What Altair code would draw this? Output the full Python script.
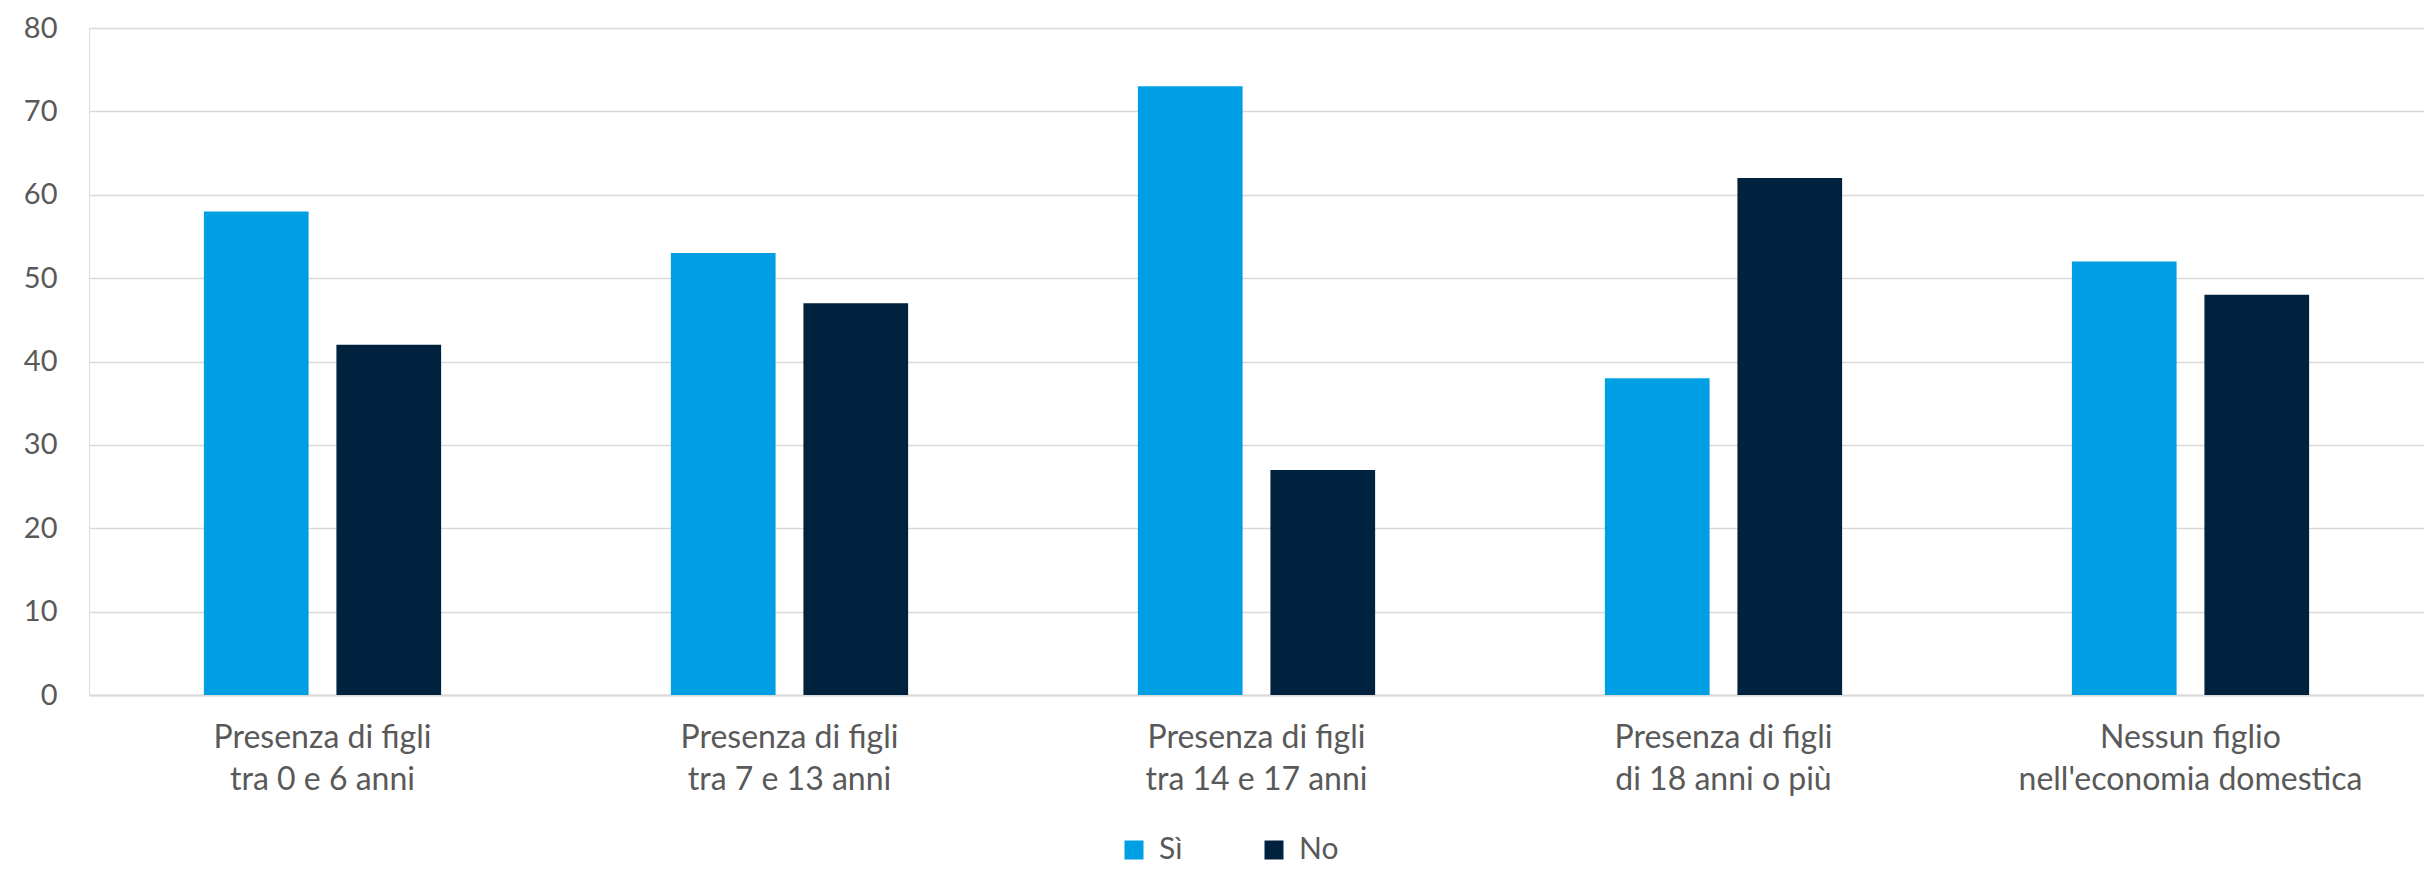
import altair as alt
import pandas as pd

categories = [
    "Presenza di figli|tra 0 e 6 anni",
    "Presenza di figli|tra 7 e 13 anni",
    "Presenza di figli|tra 14 e 17 anni",
    "Presenza di figli|di 18 anni o più",
    "Nessun figlio|nell'economia domestica",
]
series = ["Sì", "No"]
si_values = [58, 53, 73, 38, 52]
no_values = [42, 47, 27, 62, 48]
colors = ["#009FE3", "#00223E"]

rows = []
for c, s, n in zip(categories, si_values, no_values):
    rows.append({"cat": c, "serie": "Sì", "val": s})
    rows.append({"cat": c, "serie": "No", "val": n})
df = pd.DataFrame(rows)

FONT = "Lato"
GREY = "#595959"

chart = alt.Chart(df).mark_bar().encode(
    x=alt.X("cat:N", sort=categories, title=None,
            scale=alt.Scale(paddingInner=0.492, paddingOuter=0.246),
            axis=alt.Axis(labelAngle=0, labelExpr="split(datum.label, '|')",
                          labelFont=FONT, labelFontSize=32, labelColor=GREY,
                          labelLineHeight=42, labelPadding=27, labelBaseline="top",
                          labelLimit=0,
                          ticks=False, domain=True, domainColor="#d9d9d9",
                          domainWidth=2, grid=False)),
    xOffset=alt.XOffset("serie:N", sort=series,
                        scale=alt.Scale(paddingInner=0.21, paddingOuter=0)),
    y=alt.Y("val:Q", title=None,
            scale=alt.Scale(domain=[0, 80]),
            axis=alt.Axis(values=list(range(0, 81, 10)), labelFont=FONT,
                          labelFontSize=29, labelColor=GREY, labelPadding=32,
                          ticks=False, domain=False, grid=True,
                          gridColor="#d9d9d9", gridWidth=1.5)),
    color=alt.Color("serie:N", sort=series,
                    scale=alt.Scale(domain=series, range=colors),
                    legend=alt.Legend(title=None, orient="none", direction="horizontal",
                                      legendX=1030, legendY=807,
                                      symbolType="square", symbolSize=361,
                                      symbolStrokeWidth=0,
                                      labelFont=FONT, labelFontSize=30,
                                      labelColor=GREY, labelOffset=10,
                                      columnPadding=76)),
).properties(
    width=2335, height=667,
    padding={"left": 81, "top": 20, "right": 0, "bottom": 170},
    autosize=alt.AutoSizeParams(type="none"),
).configure_view(stroke=None).configure(background="white")

chart.save("out.html", embed_options={"renderer": "svg", "actions": False})
